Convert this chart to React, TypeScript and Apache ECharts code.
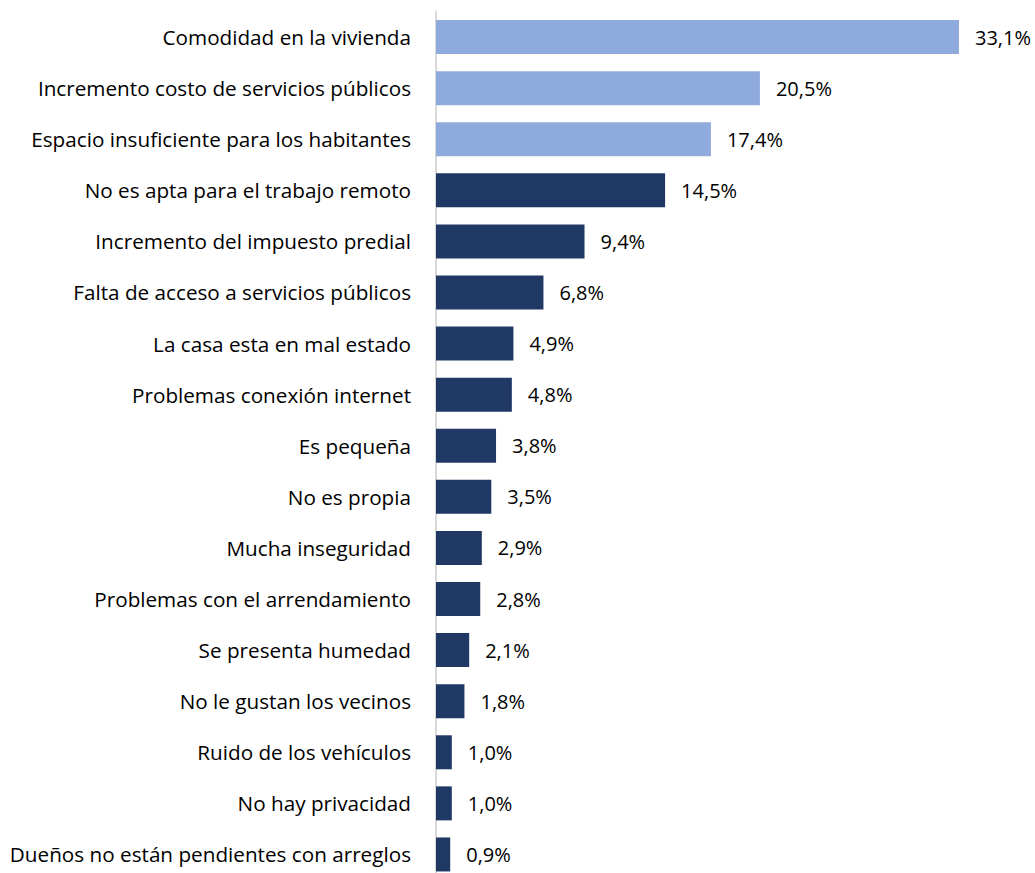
import React, { useEffect, useRef } from "react";
import * as echarts from "echarts";

const categories = [
  "Comodidad en la vivienda",
  "Incremento costo de servicios públicos",
  "Espacio insuficiente para los habitantes",
  "No es apta para el trabajo remoto",
  "Incremento del impuesto predial",
  "Falta de acceso a servicios públicos",
  "La casa esta en mal estado",
  "Problemas conexión internet",
  "Es pequeña",
  "No es propia",
  "Mucha inseguridad",
  "Problemas con el arrendamiento",
  "Se presenta humedad",
  "No le gustan los vecinos",
  "Ruido de los vehículos",
  "No hay privacidad",
  "Dueños no están pendientes con arreglos",
];

const values = [33.1, 20.5, 17.4, 14.5, 9.4, 6.8, 4.9, 4.8, 3.8, 3.5, 2.9, 2.8, 2.1, 1.8, 1.0, 1.0, 0.9];

const highlightCount = 3;
const lightColor = "#8FAADC";
const darkColor = "#203864";
const FONT = "Open Sans";

export default function App() {
  const ref = useRef<HTMLDivElement>(null);
  useEffect(() => {
    if (!ref.current) return;
    const chart = echarts.init(ref.current, undefined, { renderer: "svg" });
    chart.setOption({
      animation: false,
      textStyle: { fontFamily: FONT },
      grid: { left: 436, right: 46, top: 11.5, bottom: 0 },
      xAxis: {
        type: "value",
        min: 0,
        max: 35,
        show: false,
      },
      yAxis: {
        type: "category",
        data: categories,
        inverse: true,
        axisLine: { show: true, lineStyle: { color: "#D9D9D9", width: 2 } },
        axisTick: { show: false },
        axisLabel: { color: "#000", fontSize: 20.7, margin: 25, fontFamily: FONT },
      },
      series: [
        {
          type: "bar",
          barWidth: 34,
          data: values.map((v, i) => ({
            value: v,
            itemStyle: { color: i < highlightCount ? lightColor : darkColor },
          })),
          label: {
            show: true,
            position: "right",
            distance: 16,
            color: "#000",
            fontSize: 20,
            fontFamily: FONT,
            formatter: (p: any) => p.value.toFixed(1).replace(".", ",") + "%",
          },
        },
      ],
    });
    return () => chart.dispose();
  }, []);
  return (
    <div
      ref={ref}
      style={{ position: "absolute", left: 0, top: 0, width: 1035, height: 880 }}
    />
  );
}
